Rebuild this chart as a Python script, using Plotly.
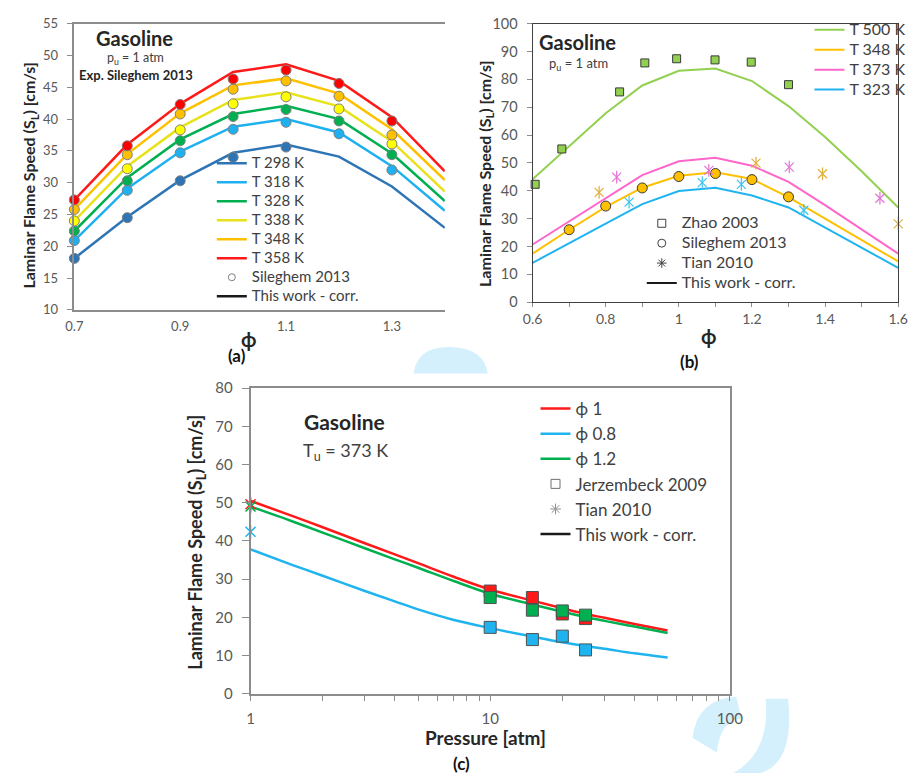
import plotly.graph_objects as go

W, H = 919, 781
FONT = "Lato, Carlito, 'Open Sans', sans-serif"

# ---------------- Panel (a) data ----------------
phi_a_line = [0.7, 0.8, 0.9, 1.0, 1.1, 1.2, 1.3, 1.4]
temps_a = ["T 298 K", "T 318 K", "T 328 K", "T 338 K", "T 348 K", "T 358 K"]
lines_a = {
    "T 298 K": [18.1, 24.6, 30.4, 34.7, 36.0, 34.1, 29.4, 22.9],
    "T 318 K": [20.9, 29.1, 34.9, 38.8, 40.0, 37.9, 32.6, 25.6],
    "T 328 K": [22.4, 30.8, 36.8, 40.8, 42.1, 40.0, 34.6, 27.1],
    "T 338 K": [24.0, 32.6, 38.7, 43.0, 44.2, 42.0, 36.5, 28.6],
    "T 348 K": [25.8, 34.5, 40.9, 45.3, 46.4, 44.0, 38.4, 30.4],
    "T 358 K": [27.3, 36.0, 42.4, 47.4, 48.6, 46.0, 40.3, 31.8],
}
phi_a_exp = [0.7, 0.8, 0.9, 1.0, 1.1, 1.2, 1.3]
exp_a = {
    "T 298 K": [18.1, 24.5, 30.3, 34.0, 35.6, None, None],
    "T 318 K": [20.9, 28.8, 34.7, 38.4, 39.5, 37.7, 32.0],
    "T 328 K": [22.4, 30.3, 36.6, 40.4, 41.5, 39.7, 34.4],
    "T 338 K": [24.0, 32.2, 38.3, 42.4, 43.5, 41.6, 36.1],
    "T 348 K": [25.8, 34.4, 40.8, 44.7, 46.0, 43.6, 37.5],
    "T 358 K": [27.3, 35.8, 42.3, 46.3, 47.7, 45.6, 39.7],
}
colors_a = {
    "T 298 K": "#2E75B6", "T 318 K": "#1FB0F0", "T 328 K": "#00B050",
    "T 338 K": "#E8E21A", "T 348 K": "#FFC000", "T 358 K": "#FF1A1A",
}
marker_a = {
    "T 298 K": "#2E75B6", "T 318 K": "#1FB0F0", "T 328 K": "#00B050",
    "T 338 K": "#FFFF00", "T 348 K": "#FFC000", "T 358 K": "#FF0000",
}

# ---------------- Panel (b) data ----------------
phi_b_line = [0.6, 0.7, 0.8, 0.9, 1.0, 1.1, 1.2, 1.3, 1.4, 1.5, 1.6]
temps_b = ["T 500 K", "T 348 K", "T 373 K", "T 323 K"]
lines_b = {
    "T 500 K": [44.1, 56.0, 67.8, 77.8, 83.1, 83.9, 79.4, 70.4, 59.3, 47.0, 34.0],
    "T 348 K": [17.4, 26.0, 34.2, 41.1, 45.4, 46.6, 44.2, 37.7, 30.0, 22.2, 14.6],
    "T 373 K": [20.7, 29.0, 37.5, 45.6, 50.6, 51.8, 49.0, 43.2, 34.8, 26.1, 17.4],
    "T 323 K": [14.1, 21.0, 28.2, 35.2, 39.9, 41.1, 38.3, 34.0, 26.8, 19.5, 12.3],
}
colors_b = {"T 500 K": "#92D050", "T 348 K": "#FFC000", "T 373 K": "#FF66CC", "T 323 K": "#1FB4F0"}
star_b = {"T 348 K": "#E0AE3A", "T 373 K": "#E273D6", "T 323 K": "#3CC3F0"}

zhao_phi = [0.607, 0.68, 0.838, 0.907, 0.994, 1.099, 1.198, 1.30]
zhao_sl = [42.3, 55.0, 75.5, 85.9, 87.4, 87.0, 86.2, 78.1]
sil_b_phi = [0.7, 0.8, 0.9, 1.0, 1.1, 1.2, 1.3]
sil_b_sl = [26.0, 34.5, 41.0, 45.1, 46.2, 44.0, 37.8]
tian_b = {
    "T 348 K": ([0.782, 1.211, 1.393, 1.60], [39.4, 49.9, 46.1, 28.1]),
    "T 373 K": ([0.830, 1.082, 1.302, 1.55], [44.9, 47.3, 48.5, 37.3]),
    "T 323 K": ([0.864, 1.064, 1.171, 1.342], [35.9, 42.9, 42.3, 33.0]),
}

# ---------------- Panel (c) data ----------------
p_line = [1, 1.5, 2, 3, 4, 5, 7, 10, 15, 20, 25, 30, 40, 55]
phis_c = ["ϕ 1", "ϕ 0.8", "ϕ 1.2"]
lines_c = {
    "ϕ 1":   [50.5, 46.5, 43.6, 39.4, 36.5, 34.2, 30.7, 27.3, 24.4, 22.4, 20.9, 19.9, 18.3, 16.6],
    "ϕ 0.8": [37.8, 33.7, 30.9, 26.9, 24.2, 22.1, 19.4, 17.2, 15.0, 13.5, 12.5, 11.8, 10.6, 9.5],
    "ϕ 1.2": [49.0, 45.1, 42.2, 38.1, 35.2, 33.0, 29.6, 26.2, 23.4, 21.5, 20.1, 19.1, 17.6, 15.9],
}
colors_c = {"ϕ 1": "#FF1A1A", "ϕ 0.8": "#1FB4F0", "ϕ 1.2": "#00B050"}
jerz_p = [10, 15, 20, 25]
jerz = {
    "ϕ 1":   [26.9, 25.2, 20.9, 19.7],
    "ϕ 0.8": [17.4, 14.2, 15.1, 11.5],
    "ϕ 1.2": [25.2, 21.9, 21.7, 20.6],
}
tian_c_p = [1]
tian_c = {"ϕ 1": [49.6], "ϕ 0.8": [42.4], "ϕ 1.2": [49.0]}

# ---------------------------------------------------------------
fig = go.Figure()


def span(t, size):
    return f'<span style="font-size:{size}px">{t}</span>'


# Panel (a)
for t in temps_a:
    fig.add_trace(go.Scatter(
        x=phi_a_line, y=lines_a[t], mode="lines", name=span(t, 15),
        line=dict(color=colors_a[t], width=2.5), xaxis="x", yaxis="y", legend="legend"))
for t in temps_a:
    fig.add_trace(go.Scatter(
        x=phi_a_exp, y=exp_a[t], mode="markers", showlegend=False,
        marker=dict(color=marker_a[t], size=10, line=dict(color="#7F7F7F", width=1)),
        cliponaxis=False, xaxis="x", yaxis="y"))
fig.add_trace(go.Scatter(x=[None], y=[None], mode="markers", name=span("Sileghem 2013", 15),
                         marker=dict(symbol="circle-open", color="#808080", size=7, line=dict(width=1)),
                         xaxis="x", yaxis="y", legend="legend"))
fig.add_trace(go.Scatter(x=[None], y=[None], mode="lines", name=span("This work - corr.", 15),
                         line=dict(color="#1a1a1a", width=2.5), xaxis="x", yaxis="y", legend="legend"))

# Panel (b)
for t in temps_b:
    fig.add_trace(go.Scatter(
        x=phi_b_line, y=lines_b[t], mode="lines", name=span(t, 16),
        line=dict(color=colors_b[t], width=2), xaxis="x2", yaxis="y2", legend="legend2"))
fig.add_trace(go.Scatter(x=zhao_phi, y=zhao_sl, mode="markers", showlegend=False,
                         marker=dict(symbol="square", color="#92D050", size=8,
                                     line=dict(color="#3a3a3a", width=1)),
                         cliponaxis=False, xaxis="x2", yaxis="y2"))
fig.add_trace(go.Scatter(x=sil_b_phi, y=sil_b_sl, mode="markers", showlegend=False,
                         marker=dict(symbol="circle", color="#FFC000", size=10,
                                     line=dict(color="#3a3a3a", width=1)),
                         cliponaxis=False, xaxis="x2", yaxis="y2"))
for t, (xs, ys) in tian_b.items():
    for sym in ["x-thin-open", "line-ns-open"]:
        fig.add_trace(go.Scatter(x=xs, y=ys, mode="markers", showlegend=False,
                                 marker=dict(symbol=sym, color=star_b[t], size=9,
                                             line=dict(color=star_b[t], width=1.2)),
                                 cliponaxis=False, xaxis="x2", yaxis="y2"))
for nm, kw in [("Zhao 2003", dict(mode="markers", marker=dict(symbol="square-open", color="#404040", size=8, line=dict(width=1)))),
               ("Sileghem 2013", dict(mode="markers", marker=dict(symbol="circle-open", color="#404040", size=8, line=dict(width=1)))),
               ("Tian 2010", dict(mode="markers", marker=dict(symbol="asterisk-open", color="#404040", size=8, line=dict(width=1)))),
               ("This work - corr.", dict(mode="lines", line=dict(color="#1a1a1a", width=2)))]:
    fig.add_trace(go.Scatter(x=[None], y=[None], name=span(nm, 16), xaxis="x2", yaxis="y2",
                             legend="legend3", **kw))

# Panel (c)
for f in phis_c:
    fig.add_trace(go.Scatter(
        x=p_line, y=lines_c[f], mode="lines", name=f, line_shape="spline",
        line=dict(color=colors_c[f], width=2.5), xaxis="x3", yaxis="y3", legend="legend4"))
for f in ["ϕ 1", "ϕ 0.8", "ϕ 1.2"]:
    fig.add_trace(go.Scatter(x=jerz_p, y=jerz[f], mode="markers", showlegend=False,
                             marker=dict(symbol="square", color=colors_c[f], size=12,
                                         line=dict(color="#505050", width=1)),
                             xaxis="x3", yaxis="y3"))
for f in ["ϕ 0.8", "ϕ 1", "ϕ 1.2"]:
    for sym in ["x-thin-open", "line-ns-open"]:
        fig.add_trace(go.Scatter(x=tian_c_p, y=tian_c[f], mode="markers", showlegend=False,
                                 marker=dict(symbol=sym, color=colors_c[f], size=10,
                                             line=dict(color=colors_c[f], width=1.5)),
                                 cliponaxis=False, xaxis="x3", yaxis="y3"))
for nm, kw in [("Jerzembeck 2009", dict(mode="markers", marker=dict(symbol="square-open", color="#707070", size=9, line=dict(width=1)))),
               ("Tian 2010", dict(mode="markers", marker=dict(symbol="asterisk-open", color="#909090", size=9, line=dict(width=1)))),
               ("This work - corr.", dict(mode="lines", line=dict(color="#1a1a1a", width=2.5)))]:
    fig.add_trace(go.Scatter(x=[None], y=[None], name=nm, xaxis="x3", yaxis="y3",
                             legend="legend4", **kw))


def dx(px):
    return px / W


def dy(py):
    return 1 - py / H


tickfont = lambda s: dict(family=FONT, size=s, color="#595959")
AX = "#8C8C8C"

layout = dict(
    width=W, height=H, margin=dict(l=0, r=0, t=0, b=0),
    paper_bgcolor="white", plot_bgcolor="white",
    font=dict(family=FONT, color="#404040"),
    showlegend=True,
    xaxis=dict(domain=[dx(66), dx(446)], anchor="y", range=[0.7, 1.4],
               tickvals=[0.7, 0.9, 1.1, 1.3], ticktext=["0.7", "0.9", "1.1", "1.3"],
               showgrid=False, zeroline=False, showline=True, linecolor=AX, linewidth=1.5,
               mirror=True, ticks="", tickfont=tickfont(13), ticklabelstandoff=4),
    yaxis=dict(domain=[dy(307), dy(14)], anchor="x", range=[10, 55], dtick=5,
               showgrid=False, zeroline=False, showline=True, linecolor=AX, linewidth=1.5,
               ticks="outside", ticklen=6, tickcolor=AX, tickfont=tickfont(13),
               ticklabelstandoff=6),
    xaxis2=dict(domain=[dx(536), dx(911)], anchor="y2", range=[0.6, 1.6],
                tickvals=[0.6, 0.8, 1.0, 1.2, 1.4, 1.6], ticktext=["0.6", "0.8", "1", "1.2", "1.4", "1.6"],
                showgrid=False, zeroline=False, showline=True, linecolor="#404040", linewidth=1,
                mirror=True, ticks="outside", ticklen=4, tickcolor=AX, tickfont=tickfont(14),
                minor=dict(ticks="outside", ticklen=4, tickcolor=AX, dtick=0.1, showgrid=False),
                ticklabelstandoff=0),
    yaxis2=dict(domain=[dy(299), dy(14)], anchor="x2", range=[0, 100], dtick=10,
                showgrid=False, zeroline=False, showline=True, linecolor="#404040", linewidth=1,
                mirror=True, ticks="outside", ticklen=5, tickcolor=AX, tickfont=tickfont(14.5),
                ticklabelstandoff=6),
    xaxis3=dict(domain=[dx(246.7), dx(738.3)], anchor="y3", type="log", range=[0, 2],
                tickvals=[1, 10, 100], ticktext=["1", "10", "100"],
                showgrid=False, zeroline=False, showline=True, linecolor=AX, linewidth=1.5,
                mirror=True, ticks="outside", ticklen=5, tickcolor=AX, tickfont=tickfont(15),
                minor=dict(ticks="outside", ticklen=5, tickcolor=AX, showgrid=False,
                           tickvals=[2, 3, 4, 5, 6, 7, 8, 9, 20, 30, 40, 50, 60, 70, 80, 90]),
                ticklabelstandoff=5),
    yaxis3=dict(domain=[dy(700), dy(387)], anchor="x3", range=[0, 80], dtick=10,
                showgrid=False, zeroline=False, showline=True, linecolor=AX, linewidth=1.5,
                mirror=True, ticks="outside", ticklen=7, tickcolor=AX, tickfont=tickfont(15),
                ticklabelstandoff=6),
    legend=dict(x=dx(207), y=dy(142), xanchor="left", yanchor="top", bgcolor="rgba(0,0,0,0)",
                font=dict(family=FONT, size=11, color="#404040"), tracegroupgap=0, itemwidth=30),
    legend2=dict(x=dx(820), y=dy(5), xanchor="left", yanchor="top", bgcolor="rgba(0,0,0,0)",
                 font=dict(family=FONT, size=13, color="#404040"), tracegroupgap=0, itemwidth=30),
    legend3=dict(x=dx(648), y=dy(203), xanchor="left", yanchor="top", bgcolor="rgba(0,0,0,0)",
                 font=dict(family=FONT, size=13, color="#404040"), tracegroupgap=0, itemwidth=30),
    legend4=dict(x=dx(539), y=dy(390), xanchor="left", yanchor="top", bgcolor="rgba(0,0,0,0)",
                 font=dict(family=FONT, size=17, color="#404040"), tracegroupgap=0, itemwidth=30),
)
fig.update_layout(**layout)

ann = []


def add_text(txt, px, py, size, bold=False, angle=0, color="#262626"):
    ann.append(dict(text=f"<b>{txt}</b>" if bold else txt, x=dx(px), y=dy(py),
                    xref="paper", yref="paper", xanchor="center", yanchor="middle",
                    showarrow=False, textangle=angle,
                    font=dict(family=FONT, size=size, color=color)))


ytitle = "Laminar Flame Speed (S<sub>L</sub>) [cm/s]"
add_text("Gasoline", 128, 29, 20, bold=True)
add_text("p<sub>u</sub> = 1 atm", 129, 50, 12.5, color="#404040")
add_text("Exp. Sileghem 2013", 129, 67, 13, bold=True)
add_text("Gasoline", 582.5, 33, 20, bold=True)
add_text("p<sub>u</sub> = 1 atm", 583, 55, 13, color="#404040")
add_text("Gasoline", 343, 421, 21, bold=True)
add_text("T<sub>u</sub> = 373 K", 344, 452, 18, color="#404040")
add_text(ytitle, 20, 169, 16, bold=True, angle=-90)
add_text(ytitle, 487, 168, 16, bold=True, angle=-90)
add_text(ytitle, 191, 545, 18, bold=True, angle=-90)
add_text("ϕ", 245, 337, 20, bold=True)
add_text("ϕ", 716.5, 334, 20, bold=True)
add_text("Pressure [atm]", 488, 745, 19, bold=True)
add_text("(a)", 233, 354, 17, bold=True, color="#111111")
add_text("(b)", 697, 360, 17, bold=True, color="#111111")
add_text("(c)", 463, 771, 17, bold=True, color="#111111")
fig.update_layout(annotations=ann)

# light-blue watermark fragments visible in the reference page
WM = "#D3F0FC"
fig.add_shape(type="path", xref="paper", yref="paper", layer="below",
              path=f"M {dx(414)} {dy(372)} Q {dx(418)} {dy(344)} {dx(452)} {dy(345)} "
                   f"Q {dx(486)} {dy(346)} {dx(490)} {dy(372)} Z",
              fillcolor=WM, line=dict(width=0))
fig.add_shape(type="path", xref="paper", yref="paper", layer="below",
              path=f"M {dx(700)} {dy(745)} Q {dx(705)} {dy(705)} {dx(745)} {dy(703)} "
                   f"L {dx(750)} {dy(725)} Q {dx(728)} {dy(728)} {dx(725)} {dy(760)} Z",
              fillcolor=WM, line=dict(width=0))
fig.add_shape(type="path", xref="paper", yref="paper", layer="below",
              path=f"M {dx(742)} {dy(781)} Q {dx(780)} {dy(760)} {dx(775)} {dy(705)} "
                   f"L {dx(798)} {dy(705)} Q {dx(805)} {dy(770)} {dx(770)} {dy(781)} Z",
              fillcolor=WM, line=dict(width=0))

fig.write_html("out.html")
